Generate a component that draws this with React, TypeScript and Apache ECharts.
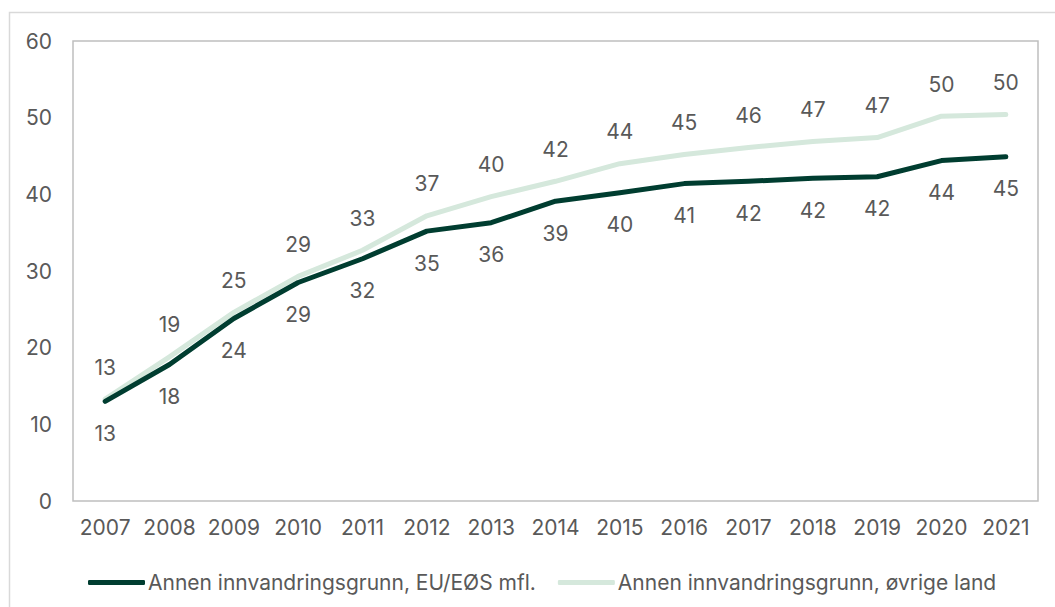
import React, { useEffect, useRef } from "react";
import * as echarts from "echarts";

const years = ["2007","2008","2009","2010","2011","2012","2013","2014","2015","2016","2017","2018","2019","2020","2021"];
const euEos = [13.0, 17.8, 23.8, 28.5, 31.6, 35.2, 36.3, 39.1, 40.2, 41.4, 41.7, 42.1, 42.3, 44.4, 44.9];
const ovrige = [13.3, 18.8, 24.6, 29.3, 32.7, 37.2, 39.7, 41.7, 44.0, 45.2, 46.1, 46.9, 47.4, 50.2, 50.4];
const seriesNames = ["Annen innvandringsgrunn, EU/EØS mfl.", "Annen innvandringsgrunn, øvrige land"];

const FONT = "Inter, 'Noto Sans', sans-serif";
const TEXT = "#595959";
const FS = 21;

export default function App() {
  const ref = useRef<HTMLDivElement>(null);
  useEffect(() => {
    if (!ref.current) return;
    const chart = echarts.init(ref.current, undefined, { renderer: "svg" });
    const mk = (name: string, data: number[], color: string, pos: string) => ({
      name,
      type: "line",
      data,
      symbol: "circle",
      symbolSize: 1,
      showSymbol: true,
      itemStyle: { color: "rgba(0,0,0,0)", borderWidth: 0 },
      lineStyle: { color, width: 5, cap: "round", join: "round" },
      label: {
        show: true,
        position: pos,
        distance: 21,
        color: TEXT,
        fontSize: FS,
        fontFamily: FONT,
        formatter: (p: any) => String(Math.round(p.value)),
      },
      emphasis: { disabled: true },
    });
    chart.setOption({
      animation: false,
      backgroundColor: "#ffffff",
      textStyle: { fontFamily: FONT },
      graphic: [
        {
          type: "rect",
          shape: { x: 9.5, y: 12.5, width: 1100, height: 700 },
          style: { fill: "none", stroke: "#d9d9d9", lineWidth: 1.5 },
          silent: true,
        },
      ],
      grid: {
        left: 73,
        right: 17,
        top: 41,
        bottom: 106,
        show: true,
        borderColor: "#bfbfbf",
        borderWidth: 1.5,
        backgroundColor: "transparent",
      },
      legend: {
        left: 83,
        top: 567,
        itemWidth: 57,
        itemHeight: 5,
        itemGap: 22,
        icon: "roundRect",
        textStyle: { color: TEXT, fontSize: FS, fontFamily: FONT, padding: [0, 0, 0, -2] },
        data: [
          { name: seriesNames[0], itemStyle: { color: "#003d30" } },
          { name: seriesNames[1], itemStyle: { color: "#d5e8dc" } },
        ],
      },
      xAxis: {
        type: "category",
        data: years,
        boundaryGap: true,
        axisLine: { show: false },
        axisTick: { show: false },
        axisLabel: { color: TEXT, fontSize: FS, fontFamily: FONT, margin: 16, interval: 0 },
      },
      yAxis: {
        type: "value",
        min: 0,
        max: 60,
        interval: 10,
        axisLine: { show: false },
        axisTick: { show: false },
        splitLine: { show: false },
        axisLabel: { color: TEXT, fontSize: FS, fontFamily: FONT, margin: 21 },
      },
      series: [
        mk(seriesNames[1], ovrige, "#d5e8dc", "top"),
        mk(seriesNames[0], euEos, "#003d30", "bottom"),
      ],
    });
    return () => chart.dispose();
  }, []);
  return (
    <div
      ref={ref}
      style={{ position: "fixed", left: 0, top: 0, width: 1055, height: 607, background: "#fff" }}
    />
  );
}
